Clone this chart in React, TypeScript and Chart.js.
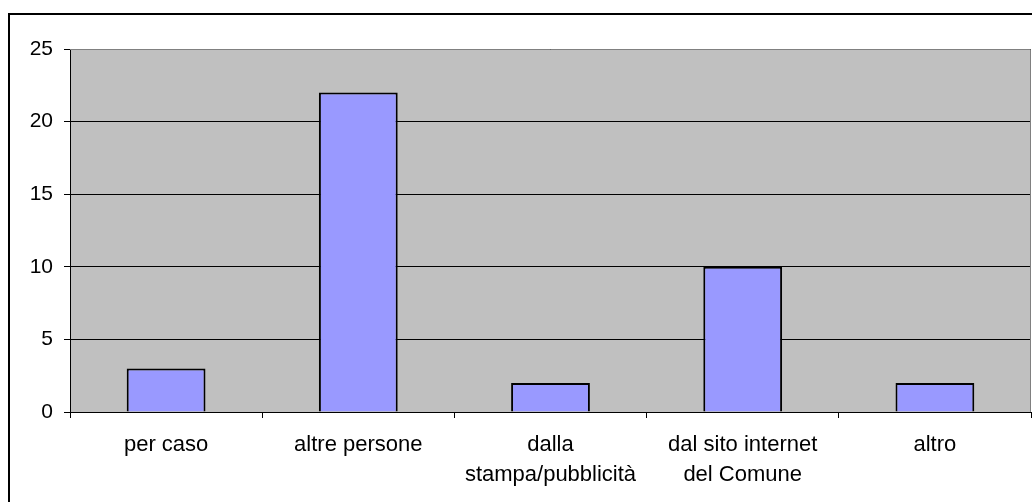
import React, { useEffect, useRef } from "react";
import { Chart, registerables } from "chart.js";

Chart.register(...registerables);

const categories: (string | string[])[] = [
  "per caso",
  "altre persone",
  ["dalla", "stampa/pubblicità"],
  ["dal sito internet", "del Comune"],
  "altro",
];
const values: number[] = [3, 22, 2, 10, 2];
const yTicks: number[] = [0, 5, 10, 15, 20, 25];

const FONT = "'Liberation Sans', Arial, sans-serif";

const framePlugin = {
  id: "frame",
  beforeDraw(chart: any) {
    const { ctx, chartArea } = chart;
    ctx.save();
    ctx.fillStyle = "#ffffff";
    ctx.fillRect(0, 0, chart.width, chart.height);
    ctx.fillStyle = "#C0C0C0";
    ctx.fillRect(
      chartArea.left,
      chartArea.top,
      chartArea.right - chartArea.left,
      chartArea.bottom - chartArea.top
    );
    ctx.strokeStyle = "#000000";
    ctx.lineWidth = 2;
    ctx.strokeRect(9, 14, 3000, 3000);
    ctx.restore();
  },
  beforeDatasetsDraw(chart: any) {
    const { ctx, chartArea } = chart;
    ctx.save();
    ctx.strokeStyle = "#808080";
    ctx.lineWidth = 1;
    ctx.beginPath();
    ctx.moveTo(chartArea.left, chartArea.top + 0.5);
    ctx.lineTo(chartArea.right - 0.5, chartArea.top + 0.5);
    ctx.lineTo(chartArea.right - 0.5, chartArea.bottom);
    ctx.stroke();
    ctx.restore();
  },
};

export default function App() {
  const ref = useRef<HTMLCanvasElement | null>(null);
  useEffect(() => {
    if (!ref.current) return;
    const chart = new Chart(ref.current, {
      type: "bar",
      data: {
        labels: categories,
        datasets: [
          {
            data: values,
            backgroundColor: "#9999FF",
            borderColor: "#000000",
            borderWidth: 2,
            barPercentage: 0.82,
            categoryPercentage: 0.5,
          },
        ],
      },
      options: {
        responsive: false,
        animation: false,
        devicePixelRatio: 1,
        layout: { padding: { left: 0, top: 49, right: 1, bottom: 0 } },
        plugins: {
          legend: { display: false },
          tooltip: { enabled: false },
          title: { display: false },
        },
        scales: {
          x: {
            offset: true,
            grid: {
              offset: true,
              drawOnChartArea: false,
              drawTicks: true,
              tickLength: 6,
              color: "#000000",
            },
            border: { display: true, color: "#000000", width: 1 },
            ticks: {
              color: "#000000",
              font: { family: FONT, size: 22, lineHeight: 1.36 },
              padding: 12,
              maxRotation: 0,
              autoSkip: false,
            },
            afterFit(scale: any) {
              scale.height = 90;
            },
          },
          y: {
            min: 0,
            max: 25,
            afterBuildTicks(scale: any) {
              scale.ticks = yTicks.map((v) => ({ value: v }));
            },
            grid: {
              color: "#000000",
              tickLength: 6,
              lineWidth: 1,
            },
            border: { display: true, color: "#000000", width: 1 },
            ticks: {
              color: "#000000",
              font: { family: FONT, size: 21 },
              padding: 11,
            },
            afterFit(scale: any) {
              scale.width = 70;
            },
          },
        },
      },
      plugins: [framePlugin],
    });
    return () => chart.destroy();
  }, []);
  return (
    <div style={{ position: "fixed", left: 0, top: 0, width: 1032, height: 502, background: "#fff" }}>
      <canvas ref={ref} width={1032} height={502} style={{ display: "block", width: 1032, height: 502 }} />
    </div>
  );
}
